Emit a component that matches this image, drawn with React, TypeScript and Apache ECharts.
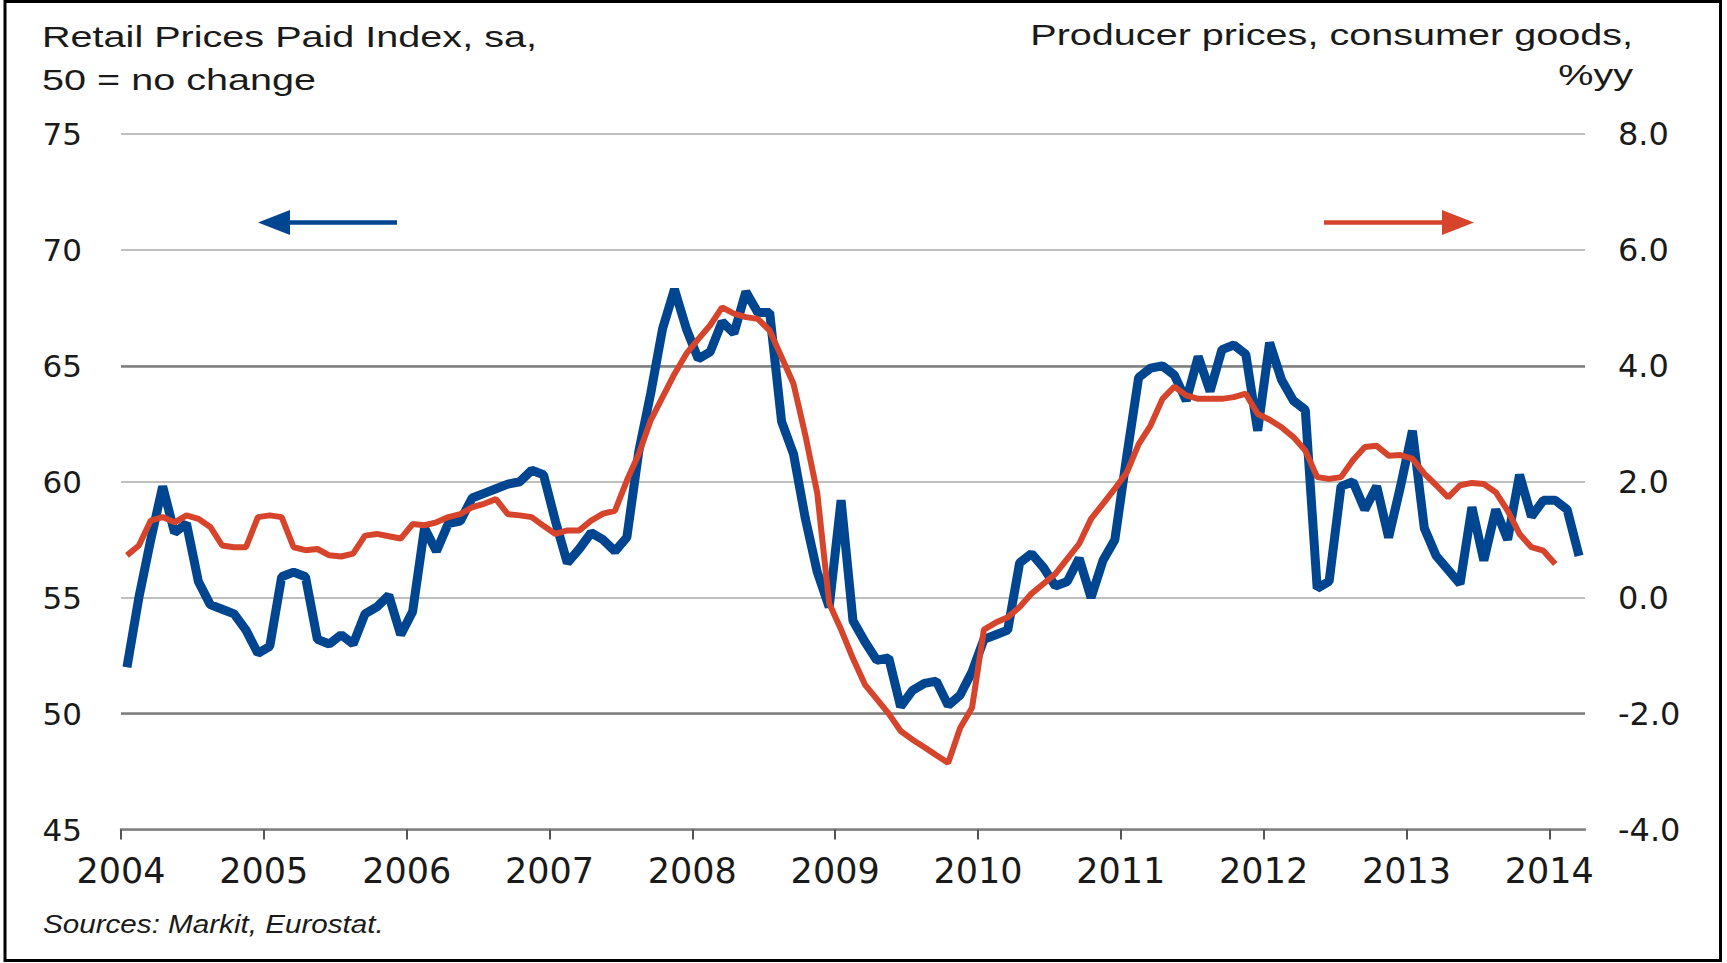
import { useEffect, useRef } from "react";
import * as echarts from "echarts";

// Monthly observations, first month = January of START_YEAR
const START_YEAR = 2004;
const YEAR_TICKS = [2004, 2005, 2006, 2007, 2008, 2009, 2010, 2011, 2012, 2013, 2014];
const X_MIN = 2004;
const X_MAX = 2014.25;
const DARK_GRID_LEVELS = [50, 65];

// Retail Prices Paid Index, sa (left axis), Jan 2004 – Mar 2014
const RETAIL_PRICES_PAID = [
  52.0, 55.0, 57.5, 59.8, 57.8, 58.2, 55.7, 54.7, 54.5, 54.3, 53.6, 52.6,
  52.9, 55.9, 56.1, 55.9, 53.2, 53.0, 53.4, 53.0, 54.3, 54.6, 55.1, 53.4,
  54.4, 58.0, 57.0, 58.2, 58.3, 59.3, 59.5, 59.7, 59.9, 60.0, 60.5, 60.3,
  58.3, 56.5, 57.1, 57.8, 57.5, 57.0, 57.6, 61.3, 63.8, 66.6, 68.3, 66.6,
  65.3, 65.6, 66.9, 66.4, 68.2, 67.3, 67.3, 62.6, 61.2, 58.4, 56.1, 54.6,
  59.2, 54.0, 53.1, 52.3, 52.4, 50.3, 51.0, 51.3, 51.4, 50.35, 50.8, 51.8,
  53.2, 53.4, 53.6, 56.5, 56.9, 56.3, 55.5, 55.7, 56.7, 55.0, 56.6, 57.5,
  61.1, 64.5, 64.9, 65.0, 64.6, 63.5, 65.4, 63.9, 65.7, 65.9, 65.5, 62.2,
  66.0, 64.4, 63.5, 63.1, 55.4, 55.7, 59.8, 60.0, 58.8, 59.8, 57.6, 59.8,
  62.2, 58.0, 56.8, 56.2, 55.6, 58.9, 56.6, 58.8, 57.5, 60.3, 58.5, 59.2,
  59.2, 58.8, 56.8,
];

// Producer prices, consumer goods, %yy (right axis), Jan 2004 – Jan 2014
const PRODUCER_PRICES_CONSUMER = [
  0.73, 0.9, 1.33, 1.39, 1.3, 1.42, 1.36, 1.22, 0.9, 0.87, 0.87, 1.39,
  1.42, 1.39, 0.87, 0.82, 0.84, 0.73, 0.71, 0.76, 1.07, 1.1, 1.06, 1.02,
  1.27, 1.25, 1.3, 1.39, 1.44, 1.56, 1.62, 1.7, 1.44, 1.42, 1.39, 1.24,
  1.1, 1.16, 1.16, 1.33, 1.45, 1.5, 2.02, 2.48, 3.06, 3.46, 3.86, 4.21,
  4.46, 4.7, 5.01, 4.9, 4.84, 4.81, 4.61, 4.15, 3.69, 2.8, 1.8, -0.1,
  -0.55, -1.05, -1.5, -1.75, -2.0, -2.3, -2.45, -2.58, -2.72, -2.85, -2.25, -1.9,
  -0.55, -0.43, -0.34, -0.16, 0.07, 0.24, 0.41, 0.67, 0.93, 1.36, 1.62, 1.88,
  2.16, 2.65, 2.97, 3.43, 3.64, 3.49, 3.43, 3.43, 3.43, 3.46, 3.52, 3.17,
  3.07, 2.94, 2.77, 2.54, 2.08, 2.05, 2.08, 2.37, 2.6, 2.62, 2.45, 2.46,
  2.4, 2.14, 1.94, 1.73, 1.94, 1.98, 1.96, 1.82, 1.5, 1.1, 0.87, 0.81,
  0.58,
];

const BLUE = "#00458f";
const RED = "#d5442b";
const TEXT = "#1a1a1a";
const GRID_LIGHT = "#bfbfbf";
const GRID_DARK = "#7f7f7f";

const toPairs = (values: number[]) =>
  values.map((v, i) => [START_YEAR + (i + 0.5) / 12, v]);

export default function App() {
  const ref = useRef<HTMLDivElement>(null);

  useEffect(() => {
    document.body.style.margin = "0";
    const chart = echarts.init(ref.current!, null, { renderer: "svg" });

    const titleFont = '30px "Liberation Sans", Arial, sans-serif';

    chart.setOption({
      animation: false,
      backgroundColor: "#ffffff",
      grid: { left: 121, right: 142, top: 134, bottom: 133.5, containLabel: false },
      xAxis: {
        type: "value",
        min: X_MIN,
        max: X_MAX,
        interval: 1,
        axisLine: { show: true, onZero: false, lineStyle: { color: GRID_DARK, width: 2.5 } },
        axisTick: {
          show: true,
          customValues: YEAR_TICKS,
          length: 10,
          lineStyle: { color: "#555555", width: 2 },
        },
        axisLabel: {
          customValues: YEAR_TICKS,
          formatter: (v: number) => String(Math.round(v)),
          color: TEXT,
          fontFamily: '"DejaVu Sans", sans-serif',
          fontSize: 35,
          margin: 24,
        },
        splitLine: { show: false },
      },
      yAxis: [
        {
          type: "value",
          min: 45,
          max: 75,
          interval: 5,
          position: "left",
          axisLine: { show: false },
          axisTick: { show: false },
          axisLabel: {
            color: TEXT,
            fontFamily: '"DejaVu Sans", sans-serif',
            fontSize: 31,
            margin: 39,
          },
          splitLine: { show: true, lineStyle: { color: GRID_LIGHT, width: 2 } },
        },
        {
          type: "value",
          min: -4,
          max: 8,
          interval: 2,
          position: "right",
          axisLine: { show: false },
          axisTick: { show: false },
          axisLabel: {
            color: TEXT,
            fontFamily: '"DejaVu Sans", sans-serif',
            fontSize: 32,
            margin: 33,
            formatter: (v: number) => v.toFixed(1),
          },
          splitLine: { show: false },
        },
      ],
      series: [
        {
          name: "Retail Prices Paid Index",
          type: "line",
          yAxisIndex: 0,
          data: toPairs(RETAIL_PRICES_PAID),
          showSymbol: false,
          symbol: "none",
          lineStyle: { color: BLUE, width: 9 },
          z: 2,
          markLine: {
            silent: true,
            symbol: "none",
            z: 1,
            label: { show: false },
            lineStyle: { color: GRID_DARK, width: 2.5, type: "solid" },
            emphasis: { disabled: true },
            data: DARK_GRID_LEVELS.map((v) => ({ yAxis: v })),
          },
        },
        {
          name: "Producer prices, consumer goods",
          type: "line",
          yAxisIndex: 1,
          data: toPairs(PRODUCER_PRICES_CONSUMER),
          showSymbol: false,
          symbol: "none",
          lineStyle: { color: RED, width: 6 },
          z: 3,
        },
      ],
      graphic: [
        {
          type: "rect",
          silent: true,
          shape: { x: 5, y: 1.5, width: 1715.5, height: 959 },
          style: { fill: "none", stroke: "#000000", lineWidth: 3 },
        },
        {
          type: "text",
          x: 42,
          y: 36,
          scaleX: 1.32,
          style: { text: "Retail Prices Paid Index, sa,", font: titleFont, fill: TEXT, align: "left", verticalAlign: "middle" },
        },
        {
          type: "text",
          x: 42,
          y: 79,
          scaleX: 1.32,
          style: { text: "50 = no change", font: titleFont, fill: TEXT, align: "left", verticalAlign: "middle" },
        },
        {
          type: "text",
          x: 1633,
          y: 34,
          scaleX: 1.32,
          style: { text: "Producer prices, consumer goods,", font: titleFont, fill: TEXT, align: "right", verticalAlign: "middle" },
        },
        {
          type: "text",
          x: 1633,
          y: 74,
          scaleX: 1.32,
          style: { text: "%yy", font: titleFont, fill: TEXT, align: "right", verticalAlign: "middle" },
        },
        {
          type: "text",
          x: 43,
          y: 924,
          scaleX: 1.14,
          style: {
            text: "Sources: Markit, Eurostat.",
            font: 'italic 26px "Liberation Sans", Arial, sans-serif',
            fill: TEXT,
            align: "left",
            verticalAlign: "middle",
          },
        },
        {
          type: "line",
          shape: { x1: 286, y1: 222.5, x2: 397, y2: 222.5 },
          style: { stroke: BLUE, lineWidth: 4.5 },
        },
        {
          type: "polygon",
          shape: { points: [[258, 222.5], [290, 210], [290, 235]] },
          style: { fill: BLUE },
        },
        {
          type: "line",
          shape: { x1: 1324, y1: 222.5, x2: 1446, y2: 222.5 },
          style: { stroke: RED, lineWidth: 4.5 },
        },
        {
          type: "polygon",
          shape: { points: [[1474, 222.5], [1442, 210], [1442, 235]] },
          style: { fill: RED },
        },
      ],
    });

    return () => chart.dispose();
  }, []);

  return (
    <div
      ref={ref}
      style={{ position: "absolute", left: 0, top: 0, width: 1727, height: 963, background: "#ffffff" }}
    />
  );
}
